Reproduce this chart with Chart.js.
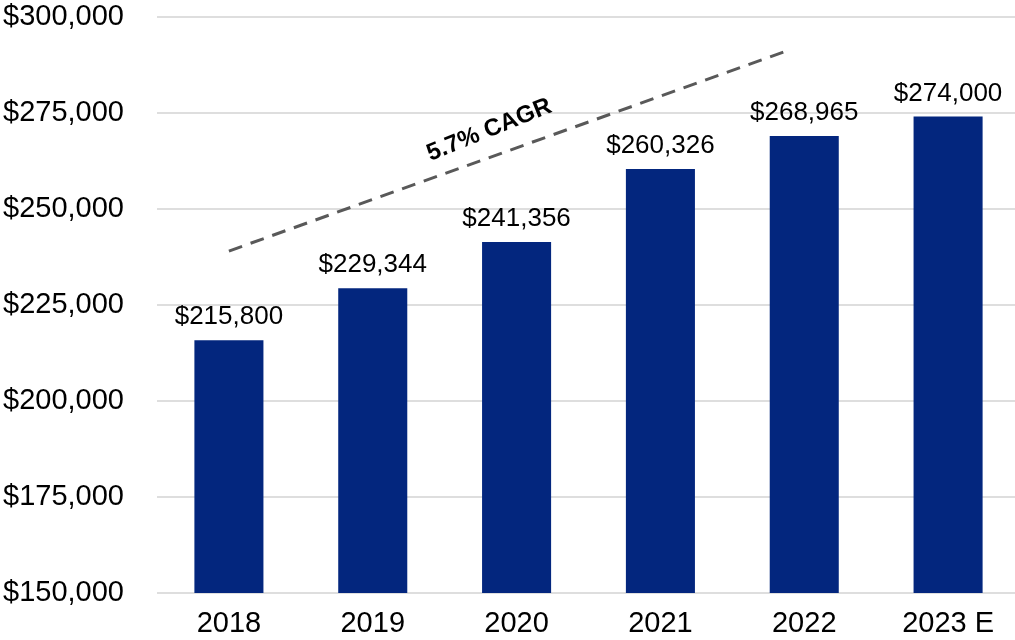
<!DOCTYPE html>
<html>
<head>
<meta charset="utf-8">
<script src="https://cdn.jsdelivr.net/npm/chart.js@4"></script>
<style>
  html, body { margin: 0; padding: 0; background: #fff; overflow: hidden; }
</style>
</head>
<body>
<canvas id="revenue" width="1020" height="640"></canvas>
<script>
// values
var years = ['2018', '2019', '2020', '2021', '2022', '2023 E'];
var revenue = [215800, 229344, 241356, 260326, 268965, 274000];
var yTicks = [150000, 175000, 200000, 225000, 250000, 275000, 300000];

// trend line (x = category index, y = value)
var trendX = [0, 3.9];
var trendY = [239000, 291400];
var cagrText = '5.7% CAGR';
var cagrX = 1.81;
var cagrY = 270500;

var money = function(v) { return '$' + Number(v).toLocaleString('en-US'); };

var overlay = {
    id: 'overlay',
    afterDatasetsDraw: function(chart) {
        var ctx = chart.ctx;
        var xs = chart.scales.x, ys = chart.scales.y;
        var meta = chart.getDatasetMeta(0);
        ctx.save();
        // dashed trend line
        ctx.strokeStyle = '#595959';
        ctx.lineWidth = 3;
        ctx.setLineDash([14, 9]);
        ctx.beginPath();
        for (var i = 0; i < trendX.length; i++) {
            var px = xs.getPixelForValue(trendX[i]);
            var py = ys.getPixelForValue(trendY[i]);
            if (i === 0) ctx.moveTo(px, py); else ctx.lineTo(px, py);
        }
        ctx.stroke();
        ctx.setLineDash([]);
        // value labels
        ctx.font = '26px "Liberation Sans", Arial, sans-serif';
        ctx.fillStyle = '#000';
        ctx.textAlign = 'center';
        ctx.textBaseline = 'alphabetic';
        meta.data.forEach(function(bar, i) {
            ctx.fillText(money(revenue[i]), bar.x, bar.y - 16);
        });
        // CAGR label
        ctx.translate(xs.getPixelForValue(cagrX), ys.getPixelForValue(cagrY));
        ctx.rotate(-22 * Math.PI / 180);
        ctx.font = 'bold 24px "Liberation Sans", Arial, sans-serif';
        ctx.textBaseline = 'middle';
        ctx.fillText(cagrText, 0, 0);
        ctx.restore();
    }
};

var chart = new Chart(document.getElementById('revenue').getContext('2d'), {
    type: 'bar',
    data: {
        labels: years,
        datasets: [{
            data: revenue,
            backgroundColor: '#03267e',
            barPercentage: 0.48,
            categoryPercentage: 1
        }]
    },
    options: {
        responsive: false,
        animation: false,
        devicePixelRatio: 1,
        layout: { padding: { left: 3, top: 0, right: 0, bottom: 0 } },
        plugins: {
            legend: { display: false },
            tooltip: { enabled: false }
        },
        scales: {
            x: {
                grid: { display: false, drawTicks: false },
                border: { display: false },
                afterFit: function(axis) { axis.height = 47; },
                ticks: {
                    color: '#000',
                    padding: 16,
                    font: { family: '"Liberation Sans", Arial, sans-serif', size: 29, lineHeight: 1 }
                }
            },
            y: {
                min: 150000,
                max: 300000,
                afterBuildTicks: function(axis) {
                    axis.ticks = yTicks.map(function(v) { return { value: v }; });
                },
                afterFit: function(axis) { axis.width = 154; },
                grid: { color: '#dedede', lineWidth: 2, drawTicks: false },
                border: { display: false },
                ticks: {
                    color: '#000',
                    padding: 0,
                    crossAlign: 'far',
                    font: { family: '"Liberation Sans", Arial, sans-serif', size: 29, lineHeight: 1.15 },
                    callback: function(v) { return money(v); }
                }
            }
        }
    },
    plugins: [overlay]
});
</script>
</body>
</html>
